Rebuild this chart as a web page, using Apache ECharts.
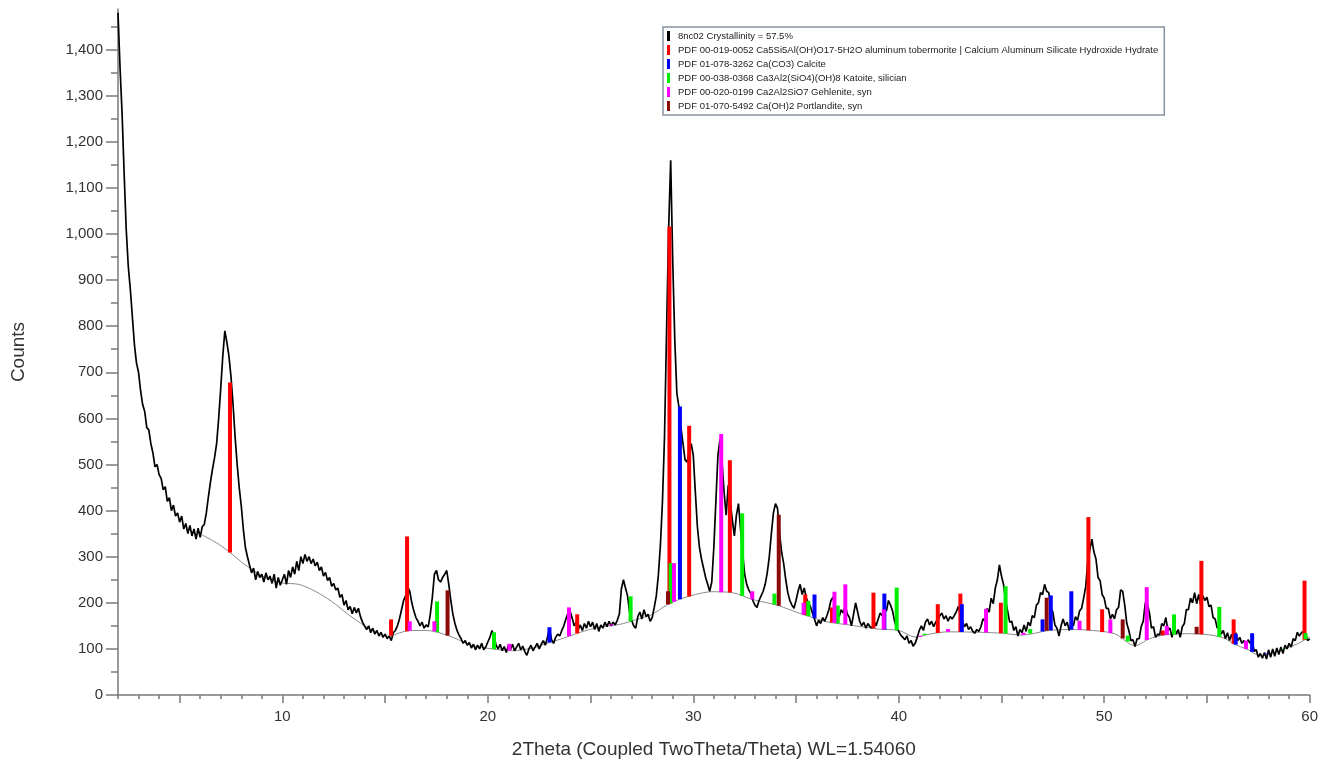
<!DOCTYPE html>
<html>
<head>
<meta charset="utf-8">
<title>XRD 8nc02</title>
<script src="https://cdn.jsdelivr.net/npm/echarts@6/dist/echarts.min.js"></script>
<style>
  html, body { margin: 0; padding: 0; background: #fff; }
  #chart { width: 1321px; height: 764px; }
</style>
</head>
<body>
<div id="chart"></div>
<script>
// measured scan: counts every 0.1 deg from 2.0 to 60.0 (one row per degree)
const scanStart = 2
const scanStep = 0.1
const scanCounts = [
  1480, 1360, 1260, 1130, 1010, 930, 880, 820, 760, 720, // 2
  700, 660, 630, 615, 580, 575, 545, 525, 495, 500, // 3
  478, 470, 445, 452, 420, 428, 400, 412, 388, 395, // 4
  375, 388, 360, 372, 350, 368, 345, 360, 338, 362, // 5
  342, 365, 370, 395, 430, 462, 490, 515, 545, 600, // 6
  665, 735, 790, 765, 735, 690, 630, 560, 500, 450, // 7
  410, 360, 320, 300, 282, 265, 275, 250, 268, 255, // 8
  262, 245, 265, 250, 258, 242, 262, 232, 255, 238, // 9
  250, 262, 240, 270, 255, 278, 262, 290, 270, 300, // 10
  285, 305, 290, 300, 285, 295, 280, 288, 270, 278, // 11
  258, 266, 248, 255, 236, 242, 228, 232, 212, 218, // 12
  195, 205, 185, 192, 176, 190, 178, 188, 170, 158, // 13
  150, 142, 150, 135, 145, 132, 140, 128, 136, 125, // 14
  132, 122, 128, 118, 135, 140, 150, 165, 185, 205, // 15
  215, 235, 225, 200, 182, 168, 160, 150, 158, 145, // 16
  152, 148, 175, 212, 262, 270, 250, 245, 255, 262, // 17
  270, 240, 205, 175, 155, 140, 130, 122, 112, 118, // 18
  108, 114, 102, 110, 98, 108, 100, 112, 98, 104, // 19
  115, 125, 140, 128, 108, 100, 110, 96, 105, 92, // 20
  108, 98, 110, 96, 104, 112, 98, 106, 94, 86, // 21
  100, 108, 96, 104, 112, 100, 110, 118, 108, 125, // 22
  145, 120, 112, 125, 132, 128, 140, 150, 165, 178, // 23
  182, 168, 150, 158, 142, 152, 140, 155, 145, 160, // 24
  148, 158, 142, 155, 138, 152, 145, 158, 148, 160, // 25
  150, 158, 152, 162, 175, 230, 250, 232, 215, 180, // 26
  162, 150, 145, 170, 180, 165, 185, 170, 175, 160, // 27
  168, 190, 215, 260, 325, 420, 560, 790, 1010, 1160, // 28
  940, 770, 655, 625, 580, 545, 510, 505, 530, 545, // 29
  520, 440, 365, 320, 295, 275, 255, 240, 225, 245, // 30
  320, 420, 520, 555, 505, 440, 390, 455, 420, 380, // 31
  345, 390, 415, 360, 310, 262, 240, 228, 220, 205, // 32
  195, 190, 205, 215, 225, 240, 265, 300, 350, 395, // 33
  415, 405, 350, 310, 285, 250, 222, 205, 195, 188, // 34
  205, 225, 240, 218, 232, 210, 200, 192, 178, 165, // 35
  150, 162, 155, 168, 160, 172, 185, 205, 212, 190, // 36
  178, 170, 185, 178, 195, 175, 168, 150, 175, 200, // 37
  180, 160, 150, 158, 145, 155, 148, 145, 160, 150, // 38
  165, 178, 172, 190, 182, 205, 195, 182, 160, 145, // 39
  138, 130, 125, 120, 128, 112, 118, 106, 112, 125, // 40
  140, 150, 140, 158, 165, 152, 160, 148, 158, 165, // 41
  172, 178, 165, 172, 160, 170, 165, 172, 180, 192, // 42
  175, 160, 148, 155, 142, 148, 138, 134, 142, 138, // 43
  148, 165, 160, 188, 180, 210, 198, 232, 250, 282, // 44
  258, 240, 205, 182, 158, 160, 140, 148, 128, 142, // 45
  135, 152, 138, 158, 150, 172, 168, 195, 200, 222, // 46
  218, 240, 225, 222, 190, 180, 152, 145, 128, 150, // 47
  165, 150, 158, 140, 155, 150, 170, 162, 182, 188, // 48
  210, 235, 290, 315, 338, 310, 295, 255, 248, 218, // 49
  210, 188, 188, 165, 175, 165, 185, 190, 228, 225, // 50
  195, 155, 140, 118, 120, 105, 122, 122, 148, 160, // 51
  200, 198, 178, 145, 148, 125, 132, 130, 155, 150, // 52
  168, 140, 145, 125, 150, 132, 142, 125, 148, 155, // 53
  185, 185, 210, 200, 222, 198, 218, 195, 215, 205, // 54
  212, 192, 195, 168, 165, 145, 150, 132, 140, 122, // 55
  135, 118, 132, 115, 135, 118, 125, 112, 118, 104, // 56
  120, 112, 118, 95, 98, 82, 90, 80, 92, 78, // 57
  98, 82, 100, 84, 102, 88, 104, 90, 108, 100, // 58
  112, 104, 122, 118, 136, 128, 135, 138, 132, 118, // 59
  122 // 60
]

// fitted background
const bgAngles = [6.1, 6.8, 7.4, 8.2, 9.2, 10.0, 10.8, 11.6, 12.4, 13.2, 14.0, 14.6, 15.2, 15.7, 16.3, 16.9, 17.4, 18.3, 19.2, 20.2, 21.2, 22.2, 22.8, 23.6, 24.5, 25.4, 26.4, 27.2, 28.0, 28.7, 29.3, 30.1, 30.9, 31.9, 32.9, 33.6, 34.2, 35.0, 35.8, 36.6, 37.4, 38.2, 39.0, 40.0, 40.8, 41.6, 42.4, 44.0, 45.0, 46.0, 47.3, 48.2, 49.1, 50.5, 51.5, 52.2, 52.9, 54.0, 55.0, 55.8, 56.3, 57.0, 57.6, 58.5, 59.4, 60.0]
const bgCounts = [347, 330, 311, 282, 254, 243, 240, 225, 203, 175, 150, 135, 127, 135, 140, 140, 138, 125, 108, 100, 96, 102, 111, 122, 136, 147, 153, 163, 175, 195, 207, 218, 224, 222, 207, 200, 193, 180, 168, 158, 153, 148, 143, 140, 126, 133, 137, 136, 134, 130, 140, 142, 141, 133, 107, 122, 130, 133, 131, 124, 111, 98, 85, 96, 111, 126]

// reference patterns: [2theta, top of stick in counts]
const tobermoriteLines = [[7.45, 678], [15.29, 164], [16.07, 344], [24.35, 175], [28.84, 1016], [29.8, 584], [31.78, 509], [35.45, 218], [36.75, 190], [38.77, 222], [41.9, 197], [43.0, 220], [44.97, 200], [49.23, 386], [49.9, 186], [52.85, 140], [54.73, 291], [56.3, 164], [59.75, 248]]
const calciteLines = [[23.0, 147], [29.35, 626], [35.9, 218], [39.3, 220], [43.07, 197], [47.0, 164], [47.4, 216], [48.4, 225], [56.4, 133], [57.2, 134], [57.9, 90]]
const katoiteLines = [[17.53, 203], [20.3, 136], [26.95, 214], [28.9, 286], [32.38, 394], [33.95, 220], [35.6, 204], [37.03, 194], [39.9, 233], [41.26, 133], [45.2, 236], [46.4, 143], [51.15, 129], [53.4, 175], [55.6, 191], [58.7, 100], [59.8, 134]]
const gehleniteLines = [[16.2, 160], [17.4, 160], [21.05, 111], [23.95, 190], [26.0, 153], [29.06, 286], [31.36, 566], [32.87, 225], [35.37, 200], [36.87, 224], [37.4, 240], [39.27, 186], [41.05, 126], [42.4, 143], [44.25, 187], [46.07, 135], [48.8, 161], [50.3, 164], [52.07, 234], [53.05, 150], [56.9, 118]]
const portlanditeLines = [[18.04, 227], [28.77, 225], [34.16, 391], [47.2, 211], [50.9, 164], [54.5, 148]]

const measuredName = '8nc02 Crystallinity = 57.5%'
const phaseNames = [
  'PDF 00-019-0052 Ca5Si5Al(OH)O17·5H2O aluminum tobermorite | Calcium Aluminum Silicate Hydroxide Hydrate',
  'PDF 01-078-3262 Ca(CO3) Calcite',
  'PDF 00-038-0368 Ca3Al2(SiO4)(OH)8 Katoite, silician',
  'PDF 00-020-0199 Ca2Al2SiO7 Gehlenite, syn',
  'PDF 01-070-5492 Ca(OH)2 Portlandite, syn',
]
const phaseColors = ['#ff0000', '#0000ff', '#00ee00', '#ff00ff', '#8b0a0a']
const phaseLines = [tobermoriteLines, calciteLines, katoiteLines, gehleniteLines, portlanditeLines]

const xLabelTicks = [10, 20, 30, 40, 50, 60]
const yLabelTicks = [0, 100, 200, 300, 400, 500, 600, 700, 800, 900, 1000, 1100, 1200, 1300, 1400]

const font = 'Arial, "Liberation Sans", sans-serif'
const axisGray = '#7a7a7a'

const measured = scanCounts.map((c, i) => [+(scanStart + i * scanStep).toFixed(1), c])
const background = bgAngles.map((a, i) => [a, bgCounts[i]])

// background level under a stick (sticks hang from the fitted background)
function backgroundAt(x) {
  if (x <= bgAngles[0]) return bgCounts[0]
  for (let i = 1; i < bgAngles.length; i++) {
    if (x <= bgAngles[i]) {
      const t = (x - bgAngles[i - 1]) / (bgAngles[i] - bgAngles[i - 1])
      return bgCounts[i - 1] + t * (bgCounts[i] - bgCounts[i - 1])
    }
  }
  return bgCounts[bgCounts.length - 1]
}

function renderStick(params, api) {
  const x = api.value(0)
  const top = api.coord([x, api.value(1)])
  const base = api.coord([x, backgroundAt(x)])
  return {
    type: 'rect',
    shape: { x: top[0] - 2, y: top[1], width: 4, height: base[1] - top[1] },
    style: { fill: api.visual('color') },
  }
}

const majorX = []
for (let v = 5; v <= 60; v += 5) majorX.push(v)
const minorX = []
for (let v = 2; v <= 60; v++) if (v % 5 !== 0) minorX.push(v)
const minorY = []
for (let v = 50; v <= 1450; v += 100) minorY.push(v)

const chart = echarts.init(document.getElementById('chart'))

chart.setOption({
  animation: false,
  textStyle: { fontFamily: font },
  grid: { left: 118, right: 8, top: 9, bottom: 62 },
  legend: {
    left: 663,
    top: 27,
    orient: 'vertical',
    icon: 'rect',
    itemWidth: 3,
    itemHeight: 10,
    itemGap: 4,
    padding: [4, 6, 4, 4],
    borderColor: '#8793a0',
    borderWidth: 1.5,
    selectedMode: false,
    textStyle: { fontSize: 9.5, color: '#222', fontFamily: font, padding: [0, 0, 0, 3] },
    data: [measuredName].concat(phaseNames),
  },
  xAxis: [
    {
      type: 'value',
      min: 2,
      max: 60,
      name: '2Theta (Coupled TwoTheta/Theta) WL=1.54060',
      nameLocation: 'middle',
      nameGap: 45,
      nameTextStyle: { fontSize: 19, color: '#333', fontFamily: font },
      axisLine: { lineStyle: { color: axisGray, width: 1.5 } },
      axisTick: { customValues: majorX, length: 8, lineStyle: { color: axisGray, width: 1.5 } },
      axisLabel: { customValues: xLabelTicks, fontSize: 15, color: '#333', margin: 14 },
      splitLine: { show: false },
    },
    {
      type: 'value',
      min: 2,
      max: 60,
      position: 'bottom',
      axisLine: { show: false },
      axisTick: { customValues: minorX, length: 4, lineStyle: { color: axisGray, width: 1.5 } },
      axisLabel: { show: false },
      splitLine: { show: false },
    },
  ],
  yAxis: [
    {
      type: 'value',
      min: 0,
      max: 1488,
      name: 'Counts',
      nameLocation: 'middle',
      nameGap: 90,
      nameTextStyle: { fontSize: 19, color: '#333', fontFamily: font },
      axisLine: { show: true, lineStyle: { color: axisGray, width: 1.5 } },
      axisTick: { show: true, customValues: yLabelTicks, length: 12, lineStyle: { color: axisGray, width: 1.5 } },
      axisLabel: {
        customValues: yLabelTicks,
        fontSize: 15,
        color: '#333',
        margin: 15,
        formatter: (v) => v.toLocaleString('en-US'),
      },
      splitLine: { show: false },
    },
    {
      type: 'value',
      min: 0,
      max: 1488,
      position: 'left',
      axisLine: { show: false },
      axisTick: { show: true, customValues: minorY, length: 7, lineStyle: { color: axisGray, width: 1.5 } },
      axisLabel: { show: false },
      splitLine: { show: false },
    },
  ],
  series: [
    {
      name: 'background',
      type: 'line',
      data: background,
      showSymbol: false,
      smooth: 0.3,
      lineStyle: { color: '#8a8a8a', width: 1 },
      itemStyle: { color: '#8a8a8a' },
      emphasis: { disabled: true },
      silent: true,
      z: 2,
    },
    {
      name: measuredName,
      type: 'line',
      data: measured,
      showSymbol: false,
      lineStyle: { color: '#000', width: 1.7 },
      itemStyle: { color: '#000' },
      emphasis: { disabled: true },
      z: 3,
    },
  ].concat(
    phaseNames.map((name, i) => ({
      name,
      type: 'custom',
      renderItem: renderStick,
      data: phaseLines[i],
      itemStyle: { color: phaseColors[i] },
      encode: { x: 0, y: 1 },
      z: 4,
    })),
  ),
})
</script>
</body>
</html>
